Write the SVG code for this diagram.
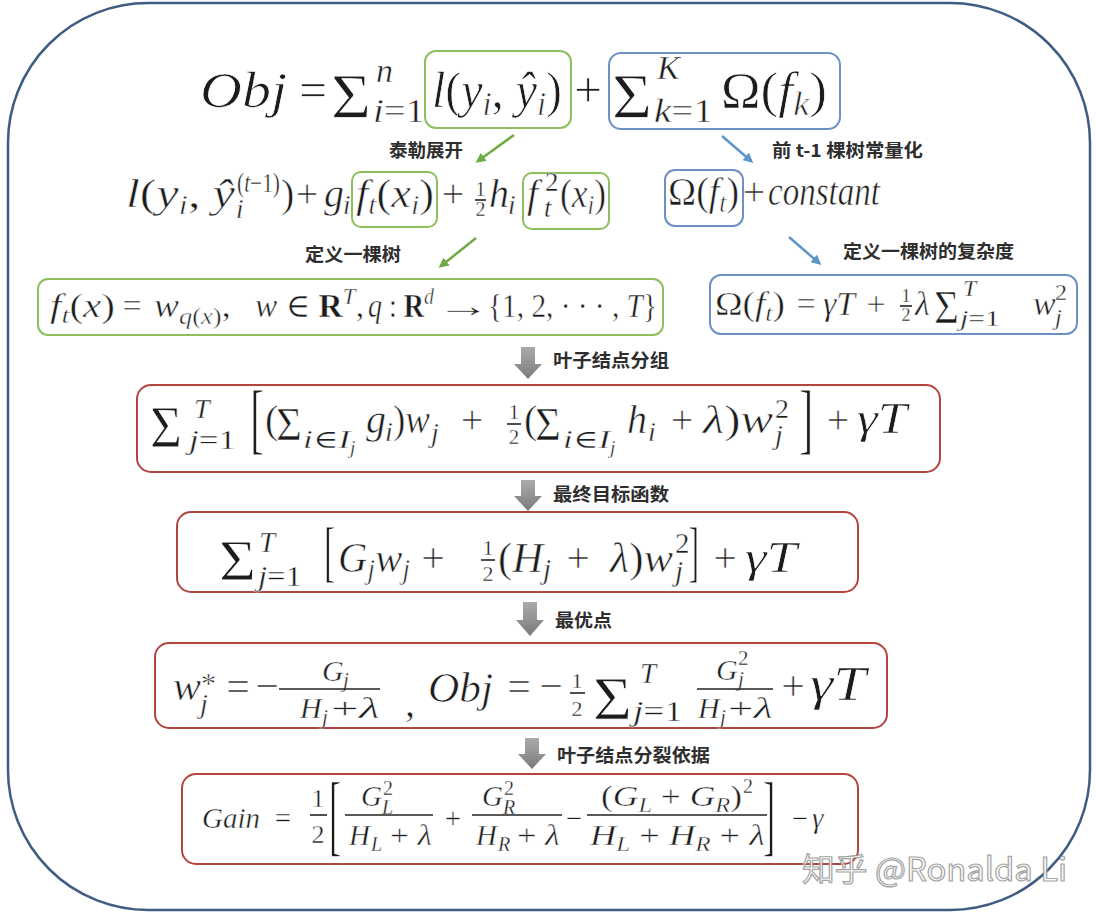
<svg xmlns="http://www.w3.org/2000/svg" width="1096" height="915" viewBox="0 0 1096 915">
<defs>
<style>
.m{font-family:"Liberation Serif","DejaVu Serif",serif;fill:#1c1c1c;stroke:#fff;stroke-width:0.014em}
.i{font-style:italic}
.bd{font-weight:700}
.lb{font-family:"Noto Sans CJK SC","Noto Sans",sans-serif;font-weight:700;fill:#2e2e2e;font-size:18px}
.bx{fill:#fff;stroke-width:2}
.gr{stroke:#8dbf5c}
.bl{stroke:#6d91c4}
.rd{stroke:#b5443e}
.fb{stroke:#222;stroke-width:1.6}
.ag{stroke:#6eaa45;stroke-width:2.5;fill:none}
.ab{stroke:#5d95c9;stroke-width:2.5;fill:none}
.ga{fill:url(#gg)}
</style>
<linearGradient id="gg" x1="0" y1="0" x2="0" y2="1"><stop offset="0" stop-color="#ababab"/><stop offset="1" stop-color="#7a7a7a"/></linearGradient>
<marker id="mg" viewBox="0 0 10 10" refX="7" refY="5" markerWidth="4" markerHeight="4" orient="auto"><path d="M0,0L10,5L0,10z" fill="#6eaa45"/></marker>
<marker id="mb" viewBox="0 0 10 10" refX="7" refY="5" markerWidth="4" markerHeight="4" orient="auto"><path d="M0,0L10,5L0,10z" fill="#5d95c9"/></marker>
</defs>
<rect width="1096" height="915" fill="#fff"/>
<rect id="frame" x="8" y="3" width="1082" height="907" rx="140" fill="none" stroke="#3f5c82" stroke-width="2.5"/>

<g id="obj-head">
<text class="m i" x="200" y="107" font-size="50" textLength="87" lengthAdjust="spacingAndGlyphs">Obj</text>
<text class="m" x="313" y="107" font-size="50" text-anchor="middle">=</text>
<text class="m" x="331" y="118" font-size="64" textLength="40" lengthAdjust="spacingAndGlyphs">Σ</text>
<text class="m i" x="376" y="82" font-size="34">n</text>
<text class="m" x="373" y="122" font-size="34" textLength="52" lengthAdjust="spacingAndGlyphs"><tspan class="i">i</tspan>=1</text>
<text class="m" x="588" y="107" font-size="50" text-anchor="middle">+</text>
</g>
<g id="obj-loss">
<rect class="bx gr" x="425" y="51" width="146" height="77" rx="11"/>
<text class="m" x="432" y="107" font-size="50" textLength="130" lengthAdjust="spacingAndGlyphs"><tspan class="i">l</tspan>(<tspan class="i">y</tspan><tspan class="i" font-size="34" dy="8">i</tspan><tspan dy="-8">, </tspan><tspan class="i">ŷ</tspan><tspan class="i" font-size="34" dy="8">i</tspan><tspan dy="-8">)</tspan></text>
</g>
<g id="obj-reg">
<rect class="bx bl" x="609" y="53" width="231" height="76" rx="12"/>
<text class="m" x="612" y="118" font-size="64" textLength="40" lengthAdjust="spacingAndGlyphs">Σ</text>
<text class="m i" x="657" y="79" font-size="34">K</text>
<text class="m" x="654" y="122" font-size="34" textLength="59" lengthAdjust="spacingAndGlyphs"><tspan class="i">k</tspan>=1</text>
<text class="m" x="721" y="107" font-size="50" textLength="106" lengthAdjust="spacingAndGlyphs">Ω(<tspan class="i">f</tspan><tspan class="i" font-size="34" dy="8">k</tspan><tspan dy="-8">)</tspan></text>
</g>

<g id="taylor">
<text class="m" x="126" y="207" font-size="40" textLength="109" lengthAdjust="spacingAndGlyphs"><tspan class="i">l</tspan>(<tspan class="i">y</tspan><tspan class="i" font-size="27" dy="7">i</tspan><tspan dy="-7">, </tspan><tspan class="i">ŷ</tspan></text>
<text class="m i" x="236" y="218" font-size="27">i</text>
<text class="m" x="237" y="192" font-size="27" textLength="43" lengthAdjust="spacingAndGlyphs">(<tspan class="i">t</tspan>−1)</text>
<text class="m" x="281" y="207" font-size="40">)</text>
<text class="m" x="307" y="207" font-size="40" text-anchor="middle">+</text>
<text class="m i" x="324" y="207" font-size="40">g</text>
<text class="m i" x="343" y="214" font-size="27">i</text>
<text class="m" x="453" y="207" font-size="40" text-anchor="middle">+</text>
<text class="m" x="480.5" y="196" font-size="20" text-anchor="middle">1</text>
<line class="fb" x1="475" y1="200" x2="486" y2="200" stroke-width="1.2"/>
<text class="m" x="480.5" y="216" font-size="20" text-anchor="middle">2</text>
<text class="m i" x="489" y="207" font-size="40">h</text>
<text class="m i" x="508" y="214" font-size="27">i</text>
</g>
<g id="taylor-g">
<rect class="bx gr" x="352" y="172" width="85" height="55" rx="9"/>
<text class="m" x="356" y="207" font-size="40" textLength="78" lengthAdjust="spacingAndGlyphs"><tspan class="i">f</tspan><tspan class="i" font-size="27" dy="7">t</tspan><tspan dy="-7">(</tspan><tspan class="i">x</tspan><tspan class="i" font-size="27" dy="7">i</tspan><tspan dy="-7">)</tspan></text>
</g>
<g id="taylor-h">
<rect class="bx gr" x="523" y="173" width="86" height="56" rx="9"/>
<text class="m i" x="527" y="207" font-size="40">f</text>
<text class="m" x="545" y="191" font-size="27">2</text>
<text class="m i" x="544" y="217" font-size="27">t</text>
<text class="m" x="560" y="207" font-size="40" textLength="46" lengthAdjust="spacingAndGlyphs">(<tspan class="i">x</tspan><tspan class="i" font-size="27" dy="7">i</tspan><tspan dy="-7">)</tspan></text>
</g>
<g id="omega-t">
<rect class="bx bl" x="665" y="170" width="78" height="56" rx="10"/>
<text class="m" x="668" y="205" font-size="40" textLength="71" lengthAdjust="spacingAndGlyphs">Ω(<tspan class="i">f</tspan><tspan class="i" font-size="27" dy="7">t</tspan><tspan dy="-7">)</tspan></text>
<text class="m" x="754" y="205" font-size="40" text-anchor="middle">+</text>
<text class="m i" x="768" y="205" font-size="40" textLength="112" lengthAdjust="spacingAndGlyphs">constant</text>
</g>

<g id="tree-def">
<rect class="bx gr" x="38" y="279" width="625" height="56" rx="10"/>
<text class="m" x="50" y="317" font-size="34" textLength="65" lengthAdjust="spacingAndGlyphs"><tspan class="i">f</tspan><tspan class="i" font-size="24" dy="6">t</tspan><tspan dy="-6">(</tspan><tspan class="i">x</tspan>)</text>
<text class="m" x="132" y="317" font-size="34" text-anchor="middle">=</text>
<text class="m" x="154" y="317" font-size="34" textLength="77" lengthAdjust="spacingAndGlyphs"><tspan class="i">w</tspan><tspan font-size="24" dy="7"><tspan class="i">q</tspan>(<tspan class="i">x</tspan>)</tspan><tspan dy="-7">,</tspan></text>
<text class="m" x="255" y="317" font-size="34" textLength="109" lengthAdjust="spacingAndGlyphs"><tspan class="i">w</tspan> ∈ <tspan class="bd">R</tspan><tspan class="i" font-size="24" dy="-13">T</tspan><tspan dy="13">,</tspan></text>
<text class="m" x="368" y="317" font-size="34" textLength="66" lengthAdjust="spacingAndGlyphs"><tspan class="i">q</tspan> : <tspan class="bd">R</tspan><tspan class="i" font-size="24" dy="-13">d</tspan></text>
<text class="m" font-size="34" transform="translate(436,317) scale(1.6,1)">→</text>
<text class="m" x="488" y="317" font-size="34" textLength="169" lengthAdjust="spacingAndGlyphs">{1, 2, · · · , <tspan class="i">T</tspan>}</text>
</g>

<g id="complexity">
<rect class="bx bl" x="710" y="275" width="367" height="59" rx="11"/>
<text class="m" x="715" y="315" font-size="34" textLength="70" lengthAdjust="spacingAndGlyphs">Ω(<tspan class="i">f</tspan><tspan class="i" font-size="24" dy="6">t</tspan><tspan dy="-6">)</tspan></text>
<text class="m" x="806" y="315" font-size="34" text-anchor="middle">=</text>
<text class="m i" x="823" y="315" font-size="34" textLength="32" lengthAdjust="spacingAndGlyphs">γT</text>
<text class="m" x="876" y="315" font-size="34" text-anchor="middle">+</text>
<text class="m" x="906" y="302" font-size="18" text-anchor="middle">1</text>
<line class="fb" x1="900" y1="306" x2="912" y2="306" stroke-width="1.2"/>
<text class="m" x="906" y="321" font-size="18" text-anchor="middle">2</text>
<text class="m i" x="915" y="315" font-size="34">λ</text>
<text class="m" x="934" y="323" font-size="46" textLength="25" lengthAdjust="spacingAndGlyphs">Σ</text>
<text class="m i" x="963" y="296" font-size="24">T</text>
<text class="m" x="960" y="326" font-size="24" textLength="40" lengthAdjust="spacingAndGlyphs"><tspan class="i">j</tspan>=1</text>
<text class="m i" x="1033" y="315" font-size="34">w</text>
<text class="m" x="1055" y="300" font-size="24">2</text>
<text class="m i" x="1055" y="325" font-size="24">j</text>
</g>

<g id="leaf-group">
<rect class="bx rd" x="137" y="385" width="803" height="87" rx="14"/>
<text class="m" x="150" y="447" font-size="60" textLength="32" lengthAdjust="spacingAndGlyphs">Σ</text>
<text class="m i" x="194" y="418" font-size="28">T</text>
<text class="m" x="189" y="449" font-size="28" textLength="47" lengthAdjust="spacingAndGlyphs"><tspan class="i">j</tspan>=1</text>
<text class="m" font-size="78" transform="translate(250,445) scale(0.55,1)">[</text>
<text class="m" x="265" y="433" font-size="40">(</text>
<text class="m" x="276" y="440" font-size="46" textLength="26" lengthAdjust="spacingAndGlyphs">Σ</text>
<text class="m" x="303" y="448" font-size="26" textLength="47" lengthAdjust="spacingAndGlyphs"><tspan class="i">i</tspan>∈<tspan class="i">I</tspan></text>
<text class="m i" x="350" y="454" font-size="19">j</text>
<text class="m i" x="366" y="433" font-size="40">g</text>
<text class="m i" x="385" y="441" font-size="28">i</text>
<text class="m" x="393" y="433" font-size="40" textLength="37" lengthAdjust="spacingAndGlyphs">)<tspan class="i">w</tspan></text>
<text class="m i" x="431" y="442" font-size="28">j</text>
<text class="m" x="472" y="433" font-size="40" text-anchor="middle">+</text>
<text class="m" x="514" y="419" font-size="21" text-anchor="middle">1</text>
<line class="fb" x1="507" y1="424" x2="521" y2="424" stroke-width="1.3"/>
<text class="m" x="514" y="444" font-size="21" text-anchor="middle">2</text>
<text class="m" x="524" y="433" font-size="40">(</text>
<text class="m" x="535" y="440" font-size="46" textLength="26" lengthAdjust="spacingAndGlyphs">Σ</text>
<text class="m" x="563" y="448" font-size="26" textLength="47" lengthAdjust="spacingAndGlyphs"><tspan class="i">i</tspan>∈<tspan class="i">I</tspan></text>
<text class="m i" x="610" y="454" font-size="19">j</text>
<text class="m i" x="627" y="433" font-size="40">h</text>
<text class="m i" x="648" y="441" font-size="28">i</text>
<text class="m" x="682" y="433" font-size="40" text-anchor="middle">+</text>
<text class="m" x="703" y="433" font-size="40" textLength="70" lengthAdjust="spacingAndGlyphs"><tspan class="i">λ</tspan>)<tspan class="i">w</tspan></text>
<text class="m" x="775" y="418" font-size="28">2</text>
<text class="m i" x="775" y="444" font-size="28">j</text>
<text class="m" font-size="78" transform="translate(799,445) scale(0.55,1)">]</text>
<text class="m" x="838" y="433" font-size="40" text-anchor="middle">+</text>
<text class="m i" x="857" y="433" font-size="44" textLength="50" lengthAdjust="spacingAndGlyphs">γT</text>
</g>

<g id="final-obj">
<rect class="bx rd" x="177" y="512" width="681" height="80" rx="14"/>
<text class="m" x="219" y="580" font-size="56" textLength="37" lengthAdjust="spacingAndGlyphs">Σ</text>
<text class="m i" x="259" y="552" font-size="29">T</text>
<text class="m" x="258" y="586" font-size="29" textLength="44" lengthAdjust="spacingAndGlyphs"><tspan class="i">j</tspan>=1</text>
<text class="m" font-size="68" transform="translate(324,574) scale(0.5,1)">[</text>
<text class="m" x="338" y="572" font-size="42" textLength="72" lengthAdjust="spacingAndGlyphs"><tspan class="i">G</tspan><tspan class="i" font-size="29" dy="7">j</tspan><tspan class="i" dy="-7">w</tspan><tspan class="i" font-size="29" dy="7">j</tspan></text>
<text class="m" x="433" y="572" font-size="42" text-anchor="middle">+</text>
<text class="m" x="488" y="555" font-size="22" text-anchor="middle">1</text>
<line class="fb" x1="481" y1="560" x2="495" y2="560" stroke-width="1.3"/>
<text class="m" x="488" y="581" font-size="22" text-anchor="middle">2</text>
<text class="m" x="498" y="572" font-size="42" textLength="45" lengthAdjust="spacingAndGlyphs">(<tspan class="i">H</tspan></text>
<text class="m i" x="543" y="579" font-size="29">j</text>
<text class="m" x="578" y="572" font-size="42" text-anchor="middle">+</text>
<text class="m" x="610" y="572" font-size="42" textLength="63" lengthAdjust="spacingAndGlyphs"><tspan class="i">λ</tspan>)<tspan class="i">w</tspan></text>
<text class="m" x="675" y="553" font-size="29">2</text>
<text class="m i" x="675" y="581" font-size="29">j</text>
<text class="m" font-size="68" transform="translate(688,574) scale(0.5,1)">]</text>
<text class="m" x="725" y="572" font-size="42" text-anchor="middle">+</text>
<text class="m i" x="745" y="572" font-size="45" textLength="52" lengthAdjust="spacingAndGlyphs">γT</text>
</g>

<g id="optimum">
<rect class="bx rd" x="155" y="643" width="732" height="85" rx="14"/>
<text class="m i" x="173" y="700" font-size="42">w</text>
<text class="m" x="201" y="693" font-size="30">*</text>
<text class="m i" x="200" y="713" font-size="28">j</text>
<text class="m" x="238" y="700" font-size="42" text-anchor="middle">=</text>
<text class="m" x="267" y="700" font-size="42" text-anchor="middle">−</text>
<text class="m i" x="322" y="681" font-size="30">G</text>
<text class="m i" x="343" y="687" font-size="21">j</text>
<line class="fb" x1="279" y1="689" x2="380" y2="689"/>
<text class="m i" x="300" y="718" font-size="30">H</text>
<text class="m i" x="322" y="724" font-size="21">j</text>
<text class="m" x="331" y="718" font-size="30" textLength="49" lengthAdjust="spacingAndGlyphs">+<tspan class="i">λ</tspan></text>
<text class="m" x="405" y="716" font-size="40">,</text>
<text class="m i" x="428" y="702" font-size="42" textLength="65" lengthAdjust="spacingAndGlyphs">Obj</text>
<text class="m" x="519" y="700" font-size="42" text-anchor="middle">=</text>
<text class="m" x="551" y="700" font-size="42" text-anchor="middle">−</text>
<text class="m" x="577" y="688" font-size="22" text-anchor="middle">1</text>
<line class="fb" x1="570" y1="693" x2="585" y2="693" stroke-width="1.3"/>
<text class="m" x="577" y="716" font-size="22" text-anchor="middle">2</text>
<text class="m" x="593" y="719" font-size="62" textLength="39" lengthAdjust="spacingAndGlyphs">Σ</text>
<text class="m i" x="640" y="683" font-size="29">T</text>
<text class="m" x="633" y="721" font-size="29" textLength="50" lengthAdjust="spacingAndGlyphs"><tspan class="i">j</tspan>=1</text>
<text class="m i" x="716" y="680" font-size="30">G</text>
<text class="m" x="738" y="665" font-size="21">2</text>
<text class="m i" x="738" y="686" font-size="21">j</text>
<line class="fb" x1="697" y1="689" x2="773" y2="689"/>
<text class="m i" x="698" y="718" font-size="30">H</text>
<text class="m i" x="720" y="724" font-size="21">j</text>
<text class="m" x="728" y="718" font-size="30" textLength="45" lengthAdjust="spacingAndGlyphs">+<tspan class="i">λ</tspan></text>
<text class="m" x="793" y="700" font-size="42" text-anchor="middle">+</text>
<text class="m i" x="810" y="700" font-size="48" textLength="56" lengthAdjust="spacingAndGlyphs">γT</text>
</g>

<g id="gain">
<rect class="bx rd" x="182" y="774" width="676" height="90" rx="14"/>
<text class="m i" x="202" y="828" font-size="29" textLength="58" lengthAdjust="spacingAndGlyphs">Gain</text>
<text class="m" x="283" y="828" font-size="29" text-anchor="middle">=</text>
<text class="m" x="318" y="807" font-size="26" text-anchor="middle">1</text>
<line class="fb" x1="310" y1="815" x2="327" y2="815"/>
<text class="m" x="318" y="843" font-size="26" text-anchor="middle">2</text>
<text class="m" font-size="92" transform="translate(329,845) scale(0.4,1)">[</text>
<text class="m i" x="361" y="806" font-size="29">G</text>
<text class="m" x="383" y="795" font-size="20">2</text>
<text class="m i" x="382" y="814" font-size="20">L</text>
<line class="fb" x1="345" y1="815" x2="433" y2="815"/>
<text class="m i" x="349" y="845" font-size="29">H</text>
<text class="m i" x="371" y="851" font-size="20">L</text>
<text class="m" x="390" y="845" font-size="29" textLength="42" lengthAdjust="spacingAndGlyphs">+ <tspan class="i">λ</tspan></text>
<text class="m" x="453" y="828" font-size="29" text-anchor="middle">+</text>
<text class="m i" x="482" y="806" font-size="29">G</text>
<text class="m" x="504" y="795" font-size="20">2</text>
<text class="m i" x="503" y="814" font-size="20">R</text>
<line class="fb" x1="472" y1="815" x2="562" y2="815"/>
<text class="m i" x="476" y="845" font-size="29">H</text>
<text class="m i" x="498" y="851" font-size="20">R</text>
<text class="m" x="517" y="845" font-size="29" textLength="43" lengthAdjust="spacingAndGlyphs">+ <tspan class="i">λ</tspan></text>
<text class="m" x="574" y="828" font-size="29" text-anchor="middle">−</text>
<text class="m" x="601" y="806" font-size="29" textLength="141" lengthAdjust="spacingAndGlyphs">(<tspan class="i">G</tspan><tspan class="i" font-size="20" dy="6">L</tspan><tspan dy="-6"> + </tspan><tspan class="i">G</tspan><tspan class="i" font-size="20" dy="6">R</tspan><tspan dy="-6">)</tspan></text>
<text class="m" x="743" y="793" font-size="20">2</text>
<line class="fb" x1="587" y1="815" x2="767" y2="815"/>
<text class="m" x="590" y="845" font-size="29" textLength="175" lengthAdjust="spacingAndGlyphs"><tspan class="i">H</tspan><tspan class="i" font-size="20" dy="6">L</tspan><tspan dy="-6"> + </tspan><tspan class="i">H</tspan><tspan class="i" font-size="20" dy="6">R</tspan><tspan dy="-6"> + </tspan><tspan class="i">λ</tspan></text>
<text class="m" font-size="92" transform="translate(763,845) scale(0.4,1)">]</text>
<text class="m" x="800" y="828" font-size="29" text-anchor="middle">−</text>
<text class="m i" x="812" y="828" font-size="29">γ</text>
</g>

<g id="connectors">
<line class="ag" x1="514" y1="135" x2="478" y2="161" marker-end="url(#mg)"/>
<line class="ab" x1="722" y1="136" x2="751" y2="161" marker-end="url(#mb)"/>
<line class="ag" x1="476" y1="238" x2="441" y2="266" marker-end="url(#mg)"/>
<line class="ab" x1="789" y1="237" x2="819" y2="263" marker-end="url(#mb)"/>
<path class="ga" d="M521,347H535V364H542L528,379L514,364H521Z"/>
<path class="ga" d="M521,480H535V496H542L528,511L514,496H521Z"/>
<path class="ga" d="M523,602H537V620H544L530,636L516,620H523Z"/>
<path class="ga" d="M525,738H539V754H546L532,769L518,754H525Z"/>
</g>

<g id="labels">
<text class="lb" x="389" y="157" textLength="74" lengthAdjust="spacingAndGlyphs">泰勒展开</text>
<text class="lb" x="772" y="157" textLength="151" lengthAdjust="spacingAndGlyphs">前 t-1 棵树常量化</text>
<text class="lb" x="305" y="261" textLength="96" lengthAdjust="spacingAndGlyphs">定义一棵树</text>
<text class="lb" x="843" y="258" textLength="171" lengthAdjust="spacingAndGlyphs">定义一棵树的复杂度</text>
<text class="lb" x="553" y="367" textLength="116" lengthAdjust="spacingAndGlyphs">叶子结点分组</text>
<text class="lb" x="553" y="501" textLength="116" lengthAdjust="spacingAndGlyphs">最终目标函数</text>
<text class="lb" x="555" y="627" textLength="57" lengthAdjust="spacingAndGlyphs">最优点</text>
<text class="lb" x="557" y="762" textLength="153" lengthAdjust="spacingAndGlyphs">叶子结点分裂依据</text>
</g>

<text x="802" y="881" font-family="Noto Sans CJK SC, Noto Sans, sans-serif" font-size="32" fill="#fff" stroke="#9a9a9a" stroke-width="1.2" opacity="0.9" textLength="265" lengthAdjust="spacingAndGlyphs">知乎 @Ronalda Li</text>
</svg>
